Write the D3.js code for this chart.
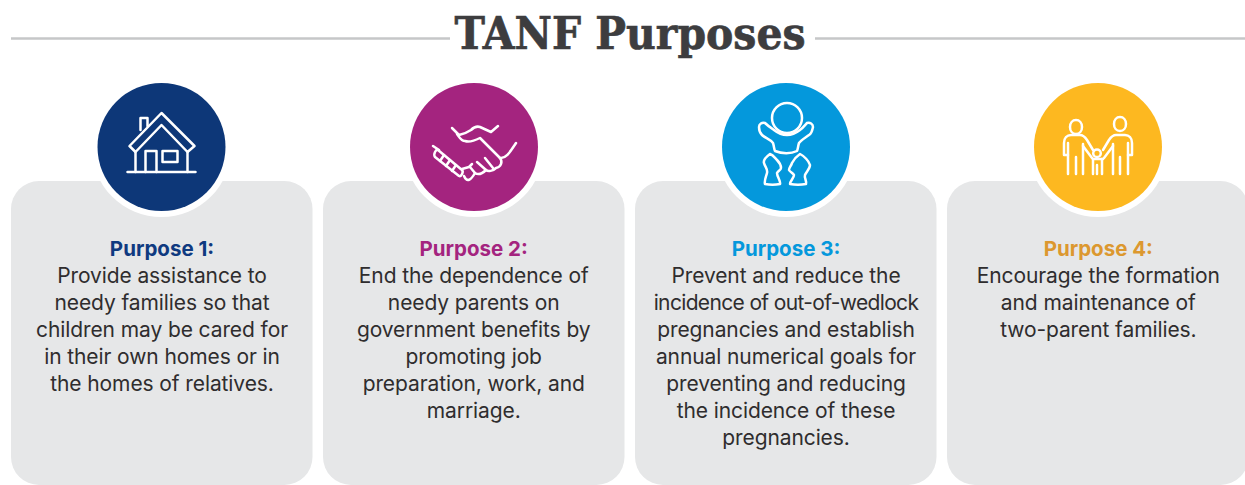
<!DOCTYPE html>
<html><head><meta charset="utf-8">
<script src="https://cdn.jsdelivr.net/npm/d3@7/dist/d3.min.js"></script>
<style>html,body{margin:0;padding:0;background:#fff;overflow:hidden}</style>
</head><body><svg id="c" width="1245" height="485"></svg>
<script>
const title = "TANF Purposes";
const headings = ["Purpose 1:", "Purpose 2:", "Purpose 3:", "Purpose 4:"];
const bodies = [
  ["Provide assistance to","needy families so that","children may be cared for","in their own homes or in","the homes of relatives."],
  ["End the dependence of","needy parents on","government benefits by","promoting job","preparation, work, and","marriage."],
  ["Prevent and reduce the","incidence of out-of-wedlock","pregnancies and establish","annual numerical goals for","preventing and reducing","the incidence of these","pregnancies."],
  ["Encourage the formation","and maintenance of","two-parent families."]
];
const circleColors = ["#0d3778","#a4247f","#0498dc","#fdb820"];
const headColors = ["#0f3a80","#a4247f","#0498dc","#dc982f"];
const icons = [
  ["M-34 25H34","M-26 5V25","M26 5V25","M-21 -17V-29H-14V-21","M-26 5L-32 -1L0 -34L33 -1L26 5L0 -22Z","M-16 25V4H-5V25","M1 4H16V15H1Z"],
  ["M-22 -19L-15 -12","M-17 -13C-14 -9 -13 -6 -9 -6C-4 -4 2 -7 6 -9L26 11C29 15 27 20 22 21C19 24 14 25 12 23C8 27 4 28 1 26C-3 33 -7 36 -10 29",
   "M-15 -12C-10 -13 -6 -15 -3 -17C0 -20 3 -21 6 -20L17 -15L24 -21",
   "M26 11C32 12 36 5 42 -4","M11 11L19 21","M3 15L12 23","M-4 20L1 26",
   "M-41 -1L-35 3","M-36 3L-12 23C-10 25 -13 30 -15 29L-39 10C-41 7 -38 2 -36 3Z","M-30 8L-34 14M-24 13L-28 19M-18 18L-22 24",
   "M-12 22L-5 20L-2 17"],
  ["M1 -44A15 15 0 1 0 1 -14A15 15 0 1 0 1 -44Z",
   "M-21 -24C-19 -22 -15 -19 -12 -17C-7 -13 -3 -12 1 -12C6 -12 10 -14 14 -17C17 -19 19 -22 21 -24C24 -25 27 -23 27 -20C26 -15 25 -13 23 -12C19 -9 15 -7 13 -4C12 -1 12 2 11 4C5 7 -4 7 -11 4C-12 2 -12 -1 -13 -4C-16 -8 -21 -9 -24 -12C-26 -14 -27 -17 -27 -20C-27 -23 -24 -25 -21 -24Z",
   "M-16 7C-20 10 -23 13 -22 16C-21 20 -18 22 -19 26C-20 30 -22 34 -21 37C-16 38 -11 38 -6 37C-5 34 -9 30 -9 26C-8 24 -5 23 -5 21C-5 18 -7 15 -9 13C-11 11 -13 8 -16 7Z",
   "M14 7C11 9 8 12 6 16C5 19 3 21 3 23C4 25 7 26 8 28C8 31 4 34 4 37C9 38 15 38 20 37C21 34 18 31 19 28C20 25 24 22 24 18C23 14 18 9 14 7Z"],
  ["M-22 -27C-18.5 -27 -16 -24 -16 -20C-16 -16 -18.5 -13 -22 -13C-25.5 -13 -28 -16 -28 -20C-28 -24 -25.5 -27 -22 -27Z",
   "M22 -30C25.5 -30 28 -27 28 -23C28 -19 25.5 -16 22 -16C18.5 -16 16 -19 16 -23C16 -27 18.5 -30 22 -30Z",
   "M-30 8L-34 8V-4C-34 -9 -31 -12 -27 -12H-18C-15 -12 -13 -10 -11 -7L-5 3",
   "M-30 -4V27","M-22 10V27","M-15 -3V27","M-15 -1L-6 11",
   "M30 8L34 8V-4C34 -9 31 -12 27 -12H18C15 -12 13 -10 11 -7L5 3",
   "M30 -4V27","M22 10V27","M15 -3V27","M15 -1L6 11",
   "M-1 2.5A3.8 3.8 0 1 0 -1 10.1A3.8 3.8 0 1 0 -1 2.5Z",
   "M-5 12H5","M-5 12V27","M-1 18V27","M4 12V27"]
];
const svg = d3.select("#c");
const x = d3.scaleLinear().domain([0,3]).range([11,947]);
const cardW = 301.5, cardTop = 181, cardBottom = 485, cardR = 28;
const centers = [162,473.7,786,1098.3];
const circleX = [161.5,474,786,1098];

svg.append("line").attr("x1",11).attr("x2",450).attr("y1",38.5).attr("y2",38.5).attr("stroke","#c6c7c8").attr("stroke-width",2.4);
svg.append("line").attr("x1",815).attr("x2",1245).attr("y1",38.5).attr("y2",38.5).attr("stroke","#c6c7c8").attr("stroke-width",2.4);
svg.append("text").text(title).attr("x",630).attr("y",49).attr("text-anchor","middle")
  .attr("font-family","'DejaVu Serif'").attr("font-weight",700).attr("font-size",44).attr("fill","#3d3d3f")
  .attr("stroke","#3d3d3f").attr("stroke-width",0.7)
  .attr("textLength",351).attr("lengthAdjust","spacingAndGlyphs");

const g = svg.selectAll("g.card").data(headings).join("g").attr("class","card");
g.append("rect").attr("x",(d,i)=>x(i)).attr("y",cardTop).attr("width",cardW).attr("height",cardBottom-cardTop)
  .attr("rx",cardR).attr("fill","#e6e7e8");
g.append("circle").attr("cx",(d,i)=>circleX[i]).attr("cy",147).attr("r",70).attr("fill","#fff");
g.append("circle").attr("cx",(d,i)=>circleX[i]).attr("cy",147).attr("r",64).attr("fill",(d,i)=>circleColors[i]);
const ic = g.append("g").attr("transform",(d,i)=>`translate(${circleX[i]},147)`)
  .attr("fill","none").attr("stroke","#fff").attr("stroke-width",2.5).attr("stroke-linejoin","round").attr("stroke-linecap","round");
ic.selectAll("path").data((d,i)=>icons[i]).join("path").attr("d",d=>d);
g.append("text").text(d=>d).attr("x",(d,i)=>centers[i]).attr("y",256).attr("text-anchor","middle")
  .attr("font-family","Inter").attr("font-weight",700).attr("font-size",20.5).attr("fill",(d,i)=>headColors[i]);
g.each(function(d,i){
  d3.select(this).selectAll("text.b").data(bodies[i]).join("text").attr("class","b").text(t=>t)
    .attr("x",centers[i]).attr("y",(t,j)=>283+j*27).attr("text-anchor","middle")
    .attr("font-family","Inter").attr("font-size",21).attr("letter-spacing",-0.1).attr("fill","#2f2d2e")
    .each(function(t){ if ((t.match(/-/g)||[]).length > 1) d3.select(this).attr("letter-spacing",-0.65); });
});
</script></body></html>
